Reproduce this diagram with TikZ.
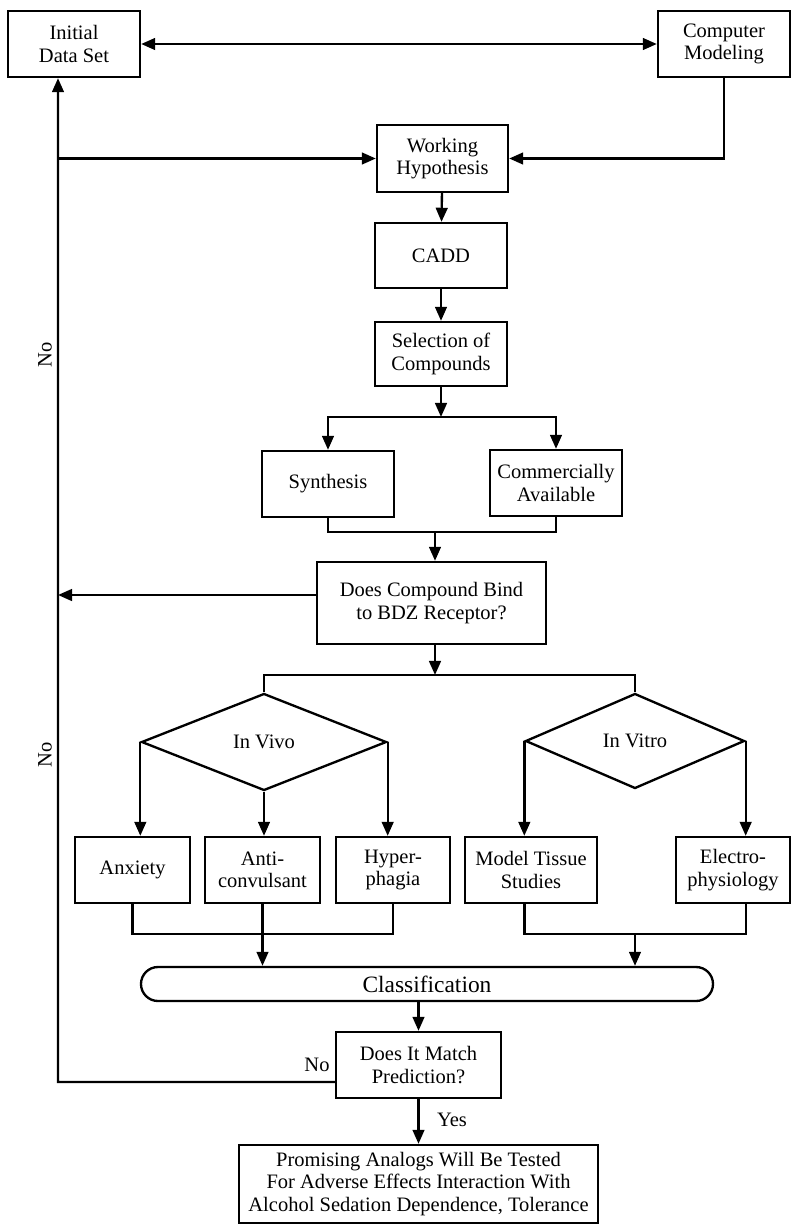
\documentclass[tikz,border=0pt]{standalone}
\usepackage{fontspec}
\setmainfont{Liberation Serif}
\usetikzlibrary{shapes.geometric,arrows.meta}

\begin{document}
\begin{tikzpicture}[x=0.03cm,y=-0.03cm,line width=2pt,
    font=\fontsize{17.5}{19}\selectfont,
    box/.style={draw,rectangle,align=center,inner sep=1pt},
    dec/.style={draw,diamond,inner sep=0pt},
    arr/.style={-{Triangle[length=12pt,width=10pt]}},
    arrboth/.style={{Triangle[length=12pt,width=10pt]}-{Triangle[length=12pt,width=10pt]}}]
    \useasboundingbox (0,0) rectangle (793,1226);

    \node[box,minimum width=3.96cm,minimum height=1.98cm] (init) at (74,44) {Initial\\Data Set};
    \node[box,minimum width=3.96cm,minimum height=1.98cm] (model) at (724,44) {Computer\\Modeling};
    \node[box,minimum width=3.93cm,minimum height=2.01cm] (hyp) at (442.5,158.5) {Working\\Hypothesis};
    \node[box,minimum width=3.96cm,minimum height=1.95cm] (cadd) at (441,255.5) {CADD};
    \node[box,minimum width=3.96cm,minimum height=1.92cm] (select) at (441,354) {Selection of\\Compounds};
    \node[box,minimum width=3.96cm,minimum height=1.98cm] (synth) at (328,484) {Synthesis};
    \node[box,minimum width=3.96cm,minimum height=1.98cm] (comm) at (556,483) {Commercially\\Available};
    \node[box,minimum width=6.87cm,minimum height=2.46cm] (bind) at (431.5,603) {Does Compound Bind\\to BDZ Receptor?};

    \node[dec,minimum width=7.35cm,minimum height=2.91cm] (vivo) at (264,742) {In Vivo};
    \node[dec,minimum width=6.57cm,minimum height=2.85cm] (vitro) at (635,741) {In Vitro};

    \node[box,minimum width=3.45cm,minimum height=1.98cm] (anx) at (132.5,870) {Anxiety};
    \node[box,minimum width=3.45cm,minimum height=1.98cm] (anti) at (262.5,870) {Anti-\\convulsant};
    \node[box,minimum width=3.42cm,minimum height=1.98cm] (hyper) at (393,870) {Hyper-\\phagia};
    \node[box,minimum width=3.96cm,minimum height=1.98cm] (tissue) at (531,870) {Model Tissue\\Studies};
    \node[box,minimum width=3.42cm,minimum height=1.98cm] (electro) at (733,870) {Electro-\\physiology};

    \node[box,rounded corners=0.51cm,minimum width=17.16cm,minimum height=1.02cm,
        font=\fontsize{20}{22}\selectfont] (class) at (427,984) {Classification};
    \node[box,minimum width=4.95cm,minimum height=1.98cm] (match) at (418.5,1065) {Does It Match\\Prediction?};
    \node[box,minimum width=10.77cm,minimum height=2.34cm] (final) at (418.5,1184)
        {Promising Analogs Will Be Tested\\For Adverse Effects Interaction With\\Alcohol Sedation Dependence, Tolerance};

    \coordinate (trunk) at (58,1082);
    \coordinate (split1) at (441,417);
    \coordinate (join1) at (435,532);
    \coordinate (split2) at (435,675);
    \coordinate (join2) at (266,934);
    \coordinate (join3) at (635,934);
    \coordinate (bindout) at ([yshift=0.24cm]bind.west);

    \draw[arrboth] (init) -- (model);
    \draw[arr] (model.south) |- (hyp.east);
    \draw[arr] ([yshift=-0.51cm]match.west) -- (trunk) -- (trunk |- init.south);
    \draw[arr] (trunk |- hyp.west) -- (hyp.west);
    \draw[arr] (bindout) -- (trunk |- bindout);

    \draw[arr] (hyp) -- (cadd);
    \draw[arr] (cadd) -- (select);
    \draw[arr] (select) -- (split1);
    \draw[arr] (split1) -| (synth);
    \draw[arr] (split1) -| (comm);
    \draw (synth.south) |- (join1) -| (comm.south);
    \draw[arr] (join1) -- (join1 |- bind.north);

    \draw[arr] (split2 |- bind.south) -- (split2);
    \draw (vivo.north) |- (split2) -| (vitro.north);
    \draw[arr] (vivo.west) -- (vivo.west |- anx.north);
    \draw[arr] (vivo.south) -- (vivo.south |- anti.north);
    \draw[arr] (vivo.east) -- (vivo.east |- hyper.north);
    \draw[arr] (vitro.west) -- (vitro.west |- tissue.north);
    \draw[arr] (vitro.east) -- (vitro.east |- electro.north);

    \draw (anx.south) |- (join2) -| (hyper.south);
    \draw[arr] (anti.south) -- (anti.south |- class.north);
    \draw (vitro.west |- tissue.south) |- (join3) -| (vitro.east |- electro.south);
    \draw[arr] (join3) -- (join3 |- class.north);

    \draw[arr] (class.south -| match.north) -- (match.north);
    \draw[arr] (match) -- (final);

    \node at (317,1065) {No};
    \node at (452,1120) {Yes};
    \node[rotate=90] at (45,355) {No};
    \node[rotate=90] at (45,755) {No};
\end{tikzpicture}
\end{document}
